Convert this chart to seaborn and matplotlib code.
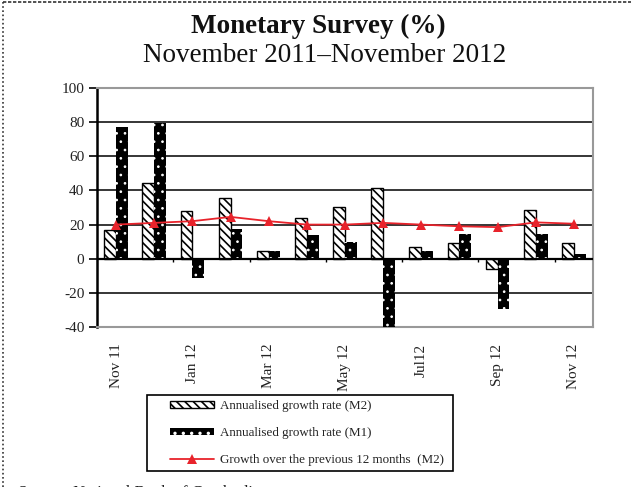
import numpy as np
import pandas as pd
import seaborn as sns
import matplotlib.pyplot as plt
from matplotlib.patches import Patch, Rectangle
from matplotlib.lines import Line2D

# data
months = ['Nov 11', 'Dec 11', 'Jan 12', 'Feb 12', 'Mar 12', 'Apr 12', 'May 12',
          'Jun 12', 'Jul 12', 'Aug 12', 'Sep 12', 'Oct 12', 'Nov 12']
tick_labels = ['Nov 11', '', 'Jan 12', '', 'Mar 12', '', 'May 12',
               '', 'Jul12', '', 'Sep 12', '', 'Nov 12']
m2_annual = [16.7, 44.2, 27.7, 35.5, 4.4, 24.0, 30.2, 41.7, 6.7, 9.0, -5.8, 28.6, 9.0]
m1_annual = [77.2, 79.5, -11.5, 17.7, 4.4, 13.8, 9.8, -45.0, 4.4, 14.4, -29.4, 14.4, 2.9]
m2_growth12 = [20.0, 21.0, 22.0, 24.5, 22.0, 20.0, 20.0, 21.0, 20.0, 19.0, 18.5, 21.3, 20.5]

lab_m2 = 'Annualised growth rate (M2)'
lab_m1 = 'Annualised growth rate (M1)'
lab_g = 'Growth over the previous 12 months  (M2)'

sns.set_style('white')
plt.rcParams['font.family'] = ['Liberation Serif', 'DejaVu Serif']
plt.rcParams['axes.unicode_minus'] = False
plt.rcParams['hatch.linewidth'] = 1.2

df = pd.DataFrame({
    'month': months * 2,
    'value': m2_annual + m1_annual,
    'series': [lab_m2] * len(months) + [lab_m1] * len(months),
})

fig = plt.figure(figsize=(6.31, 4.87), dpi=100)
ax = fig.add_axes([0.1537, 0.3285, 0.786, 0.4908])

sns.barplot(data=df, x='month', y='value', hue='series', order=months,
            hue_order=[lab_m2, lab_m1], palette=['white', 'black'],
            width=0.62, edgecolor='black', linewidth=1, legend=False, ax=ax,
            zorder=3)


def dotted_black(p):
    p.set_facecolor('black')
    p.set_edgecolor('white')
    p.set_linewidth(0)
    p.set_hatch('..')
    if hasattr(p, 'set_hatch_linewidth'):
        p.set_hatch_linewidth(0.7)


n = len(months)
for i, p in enumerate(ax.patches):
    if i < n:
        p.set_hatch('\\\\\\\\')
        p.set_edgecolor('black')
    else:
        dotted_black(p)

red = '#e8232b'
sns.lineplot(x=np.arange(n), y=m2_growth12, color=red, lw=1.3, marker='^',
             markersize=7, markeredgewidth=0, ax=ax, zorder=4)

ax.set_ylim(-40, 100)
ax.set_xlim(-0.5, n - 0.5)
ax.set_yticks(np.arange(-40, 101, 20))
ax.yaxis.grid(True, color='black', lw=1.1)
ax.set_axisbelow(True)
ax.axhline(0, color='black', lw=1.6, zorder=3.5)
# small category ticks on the zero line
ax.vlines(np.arange(1.5, n - 1, 2), -2.2, 0, color='black', lw=1, zorder=3.5)

ax.set_xticks(np.arange(n))
ax.set_xticklabels(tick_labels, rotation=90, fontsize=11, color='#222222')
ax.tick_params(axis='x', length=0, pad=12)
ax.tick_params(axis='y', length=6, width=1.2, color='black', labelsize=11,
               labelcolor='#222222', pad=3, left=True)
ax.set_xlabel('')
ax.set_ylabel('')

for s in ['top', 'right', 'bottom']:
    ax.spines[s].set_color('#999999')
    ax.spines[s].set_linewidth(1.5)
ax.spines['left'].set_color('black')
ax.spines['left'].set_linewidth(1.8)

fig.text(0.505, 1 - 26 / 487, 'Monetary Survey (%)', ha='center', va='center',
         fontsize=19.5, fontweight='bold', color='#111111')
fig.text(0.515, 1 - 56 / 487, 'November 2011\u2013November 2012', ha='center',
         va='center', fontsize=19.5, color='#111111')

# legend box drawn separately so the padding matches
W, H = 631, 487
fig.add_artist(Rectangle((147 / W, 1 - 471 / H), 306 / W, 76 / H,
                         transform=fig.transFigure, fill=False,
                         edgecolor='black', lw=1.2))
m1_handle = Patch(facecolor='black', edgecolor='white', hatch='..', lw=0)
if hasattr(m1_handle, 'set_hatch_linewidth'):
    m1_handle.set_hatch_linewidth(0.7)
handles = [
    Patch(facecolor='white', edgecolor='black', hatch='\\\\\\\\', lw=1),
    m1_handle,
    Line2D([], [], color=red, lw=1.3, marker='^', markersize=7, markeredgewidth=0),
]
leg = fig.legend(handles, [lab_m2, lab_m1, lab_g], loc='upper left',
                 bbox_to_anchor=(166 / W, 1 - 396 / H),
                 fontsize=9.4, frameon=False, handlelength=3.4,
                 handleheight=0.5, labelspacing=1.15, borderpad=0.3,
                 handletextpad=0.4, borderaxespad=0)
for t in leg.get_texts():
    t.set_color('#222222')

# page frame (dotted) on left and top
fig.add_artist(Line2D([0.005, 0.005], [0, 0.996], transform=fig.transFigure,
                      color='#333333', lw=1.2, ls=(0, (1, 1.5))))
fig.add_artist(Line2D([0.005, 1], [0.996, 0.996], transform=fig.transFigure,
                      color='#333333', lw=1.2, ls=(0, (2, 1))))

fig.text(0.028, 1 - 485 / 487, 'Source: National Bank of Cambodia', ha='left',
         va='top', fontsize=12, color='#222222')

fig.savefig('out.png', dpi=100)
